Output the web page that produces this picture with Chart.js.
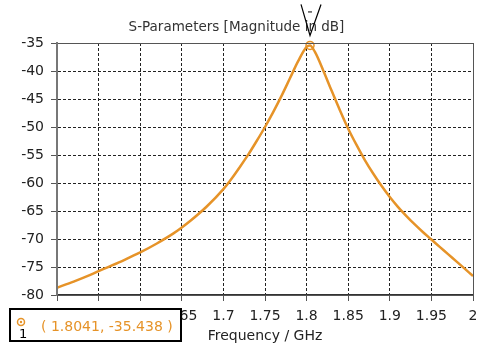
<!DOCTYPE html>
<html>
<head>
<meta charset="utf-8">
<script src="https://cdn.jsdelivr.net/npm/chart.js@4"></script>
<style>
  html, body { margin: 0; padding: 0; background: #fff; }
  #wrap { width: 486px; height: 346px; }
</style>
</head>
<body>
<div id="wrap"><canvas id="chart"></canvas></div>
<script>
// values
const freqs = [1.50, 1.52, 1.54, 1.55, 1.56, 1.58, 1.60, 1.62, 1.64, 1.65, 1.66, 1.68, 1.70, 1.71, 1.72, 1.73, 1.74, 1.75,
  1.76, 1.77, 1.78, 1.79, 1.80, 1.8041, 1.81, 1.82, 1.83, 1.84, 1.85, 1.86, 1.87, 1.88, 1.89, 1.90,
  1.91, 1.92, 1.93, 1.94, 1.95, 1.96, 1.97, 1.98, 1.99, 2.00];
const s21 = [-78.7, -77.6, -76.4, -75.75, -75.1, -73.8, -72.4, -70.8, -69.0, -67.95, -66.8, -64.2, -61.1, -59.2, -57.1, -54.9, -52.5, -50.0,
  -47.3, -44.4, -41.3, -38.2, -35.7, -35.44, -36.6, -39.9, -43.5, -47.0, -50.3, -53.2, -55.9, -58.3, -60.5, -62.5,
  -64.3, -65.9, -67.4, -68.8, -70.1, -71.4, -72.7, -74.0, -75.3, -76.6];
const markerX = [1.8041];
const markerY = [-35.438];
const markerLabel = '( 1.8041, -35.438 )';

const orange = 'rgb(230,147,40)';
const font = 'DejaVu Sans';

const frame = {
  id: 'frame',
  afterDraw(chart) {
    const { ctx, chartArea: a, scales } = chart;
    ctx.save();
    ctx.strokeStyle = '#555';
    ctx.lineWidth = 1;
    ctx.strokeRect(a.left + 0.5, a.top + 0.5, a.right - a.left, a.bottom - a.top);
    ctx.strokeStyle = '#777';
    ctx.lineWidth = 2;
    ctx.beginPath(); ctx.moveTo(a.left, a.top); ctx.lineTo(a.left, a.bottom); ctx.stroke();

    // marker arrow
    const mx = scales.x.getPixelForValue(markerX[0]);
    const my = scales.y.getPixelForValue(markerY[0]);
    ctx.strokeStyle = '#000';
    ctx.lineWidth = 1.2;
    ctx.beginPath();
    ctx.moveTo(mx - 9, my - 41); ctx.lineTo(mx, my - 10); ctx.lineTo(mx + 11, my - 41);
    ctx.stroke();
    ctx.lineWidth = 1;
    ctx.beginPath(); ctx.moveTo(mx - 2, my - 33.5); ctx.lineTo(mx + 2, my - 33.5); ctx.stroke();

    // marker readout box
    ctx.fillStyle = '#fff';
    ctx.fillRect(10, 309, 171, 32);
    ctx.strokeStyle = '#000';
    ctx.lineWidth = 2;
    ctx.strokeRect(10, 309, 171, 32);
    ctx.strokeStyle = orange;
    ctx.lineWidth = 1.5;
    ctx.beginPath(); ctx.arc(21, 322, 3.5, 0, Math.PI * 2); ctx.stroke();
    ctx.fillStyle = orange;
    ctx.beginPath(); ctx.arc(21, 322, 1.2, 0, Math.PI * 2); ctx.fill();
    ctx.fillStyle = '#000';
    ctx.font = '13px ' + font;
    ctx.textAlign = 'left';
    ctx.textBaseline = 'alphabetic';
    ctx.fillText('1', 19, 338);
    ctx.fillStyle = orange;
    ctx.font = '14px ' + font;
    ctx.fillText(markerLabel, 41, 331);
    ctx.restore();
  }
};

new Chart(document.getElementById('chart'), {
  type: 'line',
  data: {
    datasets: [{
      data: freqs.map((f, i) => ({ x: f, y: s21[i] })),
      borderColor: orange,
      borderWidth: 2.5,
      pointRadius: 0,
      cubicInterpolationMode: 'monotone'
    }, {
      data: markerX.map((f, i) => ({ x: f, y: markerY[i] })),
      showLine: false,
      pointRadius: 4,
      pointBorderWidth: 1.5,
      pointBorderColor: orange,
      pointBackgroundColor: '#fff'
    }, {
      data: markerX.map((f, i) => ({ x: f, y: markerY[i] })),
      showLine: false,
      pointRadius: 1.3,
      pointBorderWidth: 0,
      pointBackgroundColor: orange
    }]
  },
  options: {
    responsive: true,
    maintainAspectRatio: false,
    animation: false,
    clip: false,
    layout: { padding: { left: 0, right: 13, top: 0, bottom: 0 } },
    plugins: {
      legend: { display: false },
      tooltip: { enabled: false },
      title: {
        display: true,
        text: 'S-Parameters [Magnitude in dB]',
        color: '#333',
        font: { family: font, size: 13.5, weight: 'normal' },
        padding: { top: 19.5, bottom: 7.3 }
      }
    },
    scales: {
      x: {
        type: 'linear',
        min: 1.5,
        max: 2,
        afterFit(s) { s.height = 51; },
        ticks: {
          stepSize: 0.05,
          color: '#222',
          padding: 7,
          maxRotation: 0,
          autoSkip: false,
          font: { family: font, size: 14 },
          callback: v => String(parseFloat(v.toFixed(2)))
        },
        grid: { color: '#222', lineWidth: 1, tickLength: 6, tickColor: '#555' },
        border: { color: '#333', width: 1.5, dash: [3, 2] },
        title: {
          display: true,
          text: 'Frequency / GHz',
          color: '#222',
          font: { family: font, size: 14 },
          padding: { top: 0, bottom: 1 }
        }
      },
      y: {
        min: -80,
        max: -35,
        afterFit(s) { s.width = 57; },
        ticks: {
          stepSize: 5,
          color: '#222',
          padding: 7,
          font: { family: font, size: 14 }
        },
        grid: { color: '#222', lineWidth: 1, tickLength: 6, tickColor: '#555' },
        border: { color: '#777', width: 2, dash: [3, 2] }
      }
    }
  },
  plugins: [frame]
});
</script>
</body>
</html>
